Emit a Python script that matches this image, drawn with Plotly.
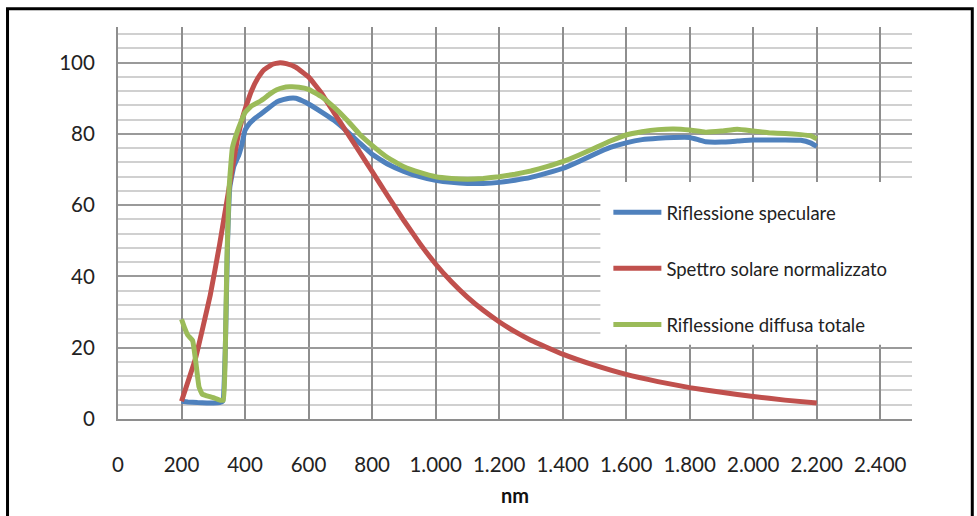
import plotly.graph_objects as go

# ---------------- data ----------------
blue_x = [200, 220, 250, 280, 300, 320, 330, 338, 345, 352, 365, 380, 390, 400, 415, 430, 450, 470, 500, 520, 540, 560, 580, 600, 640, 680, 720, 760, 800, 850, 900, 950, 1000, 1050, 1100, 1150, 1200, 1250, 1300, 1350, 1400, 1450, 1500, 1550, 1600, 1650, 1700, 1750, 1800, 1830, 1850, 1900, 1950, 2000, 2050, 2100, 2150, 2180, 2200]
blue_y = [5.0, 4.8, 4.6, 4.5, 4.5, 4.6, 5.0, 20, 50, 65, 71, 74, 77, 81, 83, 84.3, 85.6, 87, 89, 89.6, 90.0, 90.0, 89.3, 88.4, 86.2, 83.8, 80.8, 77.5, 74.3, 71.5, 69.5, 68, 67, 66.4, 66.1, 66.1, 66.4, 67, 67.8, 69, 70.3, 72.2, 74.3, 76.2, 77.5, 78.4, 78.8, 79, 79, 78.3, 77.8, 77.7, 78, 78.3, 78.3, 78.3, 78.2, 77.5, 76.5]

red_x = [200, 244, 291, 320, 350, 376, 392, 406, 420, 440, 460, 485, 510, 530, 560, 600, 640, 680, 720, 760, 800, 850, 900, 950, 1000, 1050, 1100, 1150, 1200, 1250, 1300, 1400, 1500, 1600, 1700, 1800, 1900, 2000, 2100, 2200]
red_y = [5, 17, 35, 49, 65, 78.5, 84.5, 88.5, 92, 95.6, 98, 99.5, 100, 99.7, 98.7, 96, 91.5, 86, 80.5, 75, 69.5, 62.5, 55.7, 49.3, 43.5, 38.5, 34.2, 30.5, 27.3, 24.5, 22.1, 18.2, 15.1, 12.5, 10.5, 8.8, 7.5, 6.3, 5.3, 4.5]

green_x = [200, 210, 220, 235, 245, 255, 265, 280, 300, 320, 332, 338, 343, 350, 360, 375, 390, 400, 420, 450, 480, 500, 520, 540, 570, 600, 640, 680, 720, 760, 800, 850, 900, 950, 1000, 1050, 1100, 1150, 1200, 1250, 1300, 1350, 1400, 1450, 1500, 1550, 1600, 1650, 1700, 1750, 1800, 1850, 1900, 1950, 2000, 2050, 2100, 2150, 2180, 2200]
green_y = [28, 25.5, 23.5, 22, 16, 9, 7, 6.5, 6, 5.3, 5.3, 20, 45, 65, 76, 80.5, 84, 86, 87.8, 89.3, 91.3, 92.4, 93, 93.2, 93.1, 92.5, 90.5, 87.5, 84, 80, 76.8, 73.3, 70.8, 69.2, 68, 67.5, 67.3, 67.5, 68, 68.7, 69.6, 70.8, 72.2, 74, 76, 78, 79.7, 80.6, 81.2, 81.4, 81.1, 80.5, 80.8, 81.3, 80.8, 80.3, 80.1, 79.8, 79.5, 78.6]

series_names = ["Riflessione speculare", "Spettro solare normalizzato", "Riflessione diffusa totale"]
series_colors = ["#4F81BD", "#C0504D", "#9BBB59"]

x_tick_vals = [0, 200, 400, 600, 800, 1000, 1200, 1400, 1600, 1800, 2000, 2200, 2400]
x_tick_text = ["0", "200", "400", "600", "800", "1.000", "1.200", "1.400", "1.600", "1.800", "2.000", "2.200", "2.400"]
y_tick_vals = [0, 20, 40, 60, 80, 100]
x_title = "nm"

# ---------------- figure ----------------
W, H = 977, 516
L, R, T, B = 117.5, 911.7, 26.7, 429.3
X_MAX, Y_MAX = 2500, 110

def px_to_paper_x(px):
    return (px - L) / (R - L)

def px_to_paper_y(py):
    return (B - py) / (B - T)

fig = go.Figure()
for xs, ys, name, col in zip([blue_x, red_x, green_x], [blue_y, red_y, green_y], series_names, series_colors):
    fig.add_trace(go.Scatter(x=xs, y=ys, mode="lines", name=name,
                             line=dict(color=col, width=5, shape="spline", smoothing=0.3),
                             legendgroup=name))

font_family = "Lato, 'Open Sans', sans-serif"

fig.update_layout(
    width=W, height=H,
    margin=dict(l=L, r=W - R, t=T, b=H - B, pad=0),
    plot_bgcolor="white", paper_bgcolor="white",
    font=dict(family=font_family, color="#222222"),
    showlegend=True,
    legend=dict(x=px_to_paper_x(608), y=px_to_paper_y(198), xanchor="left", yanchor="top",
                bgcolor="rgba(0,0,0,0)", font=dict(size=18.5, color="#222222"),
                tracegroupgap=29, traceorder="grouped", itemwidth=48),
    xaxis=dict(range=[0, X_MAX], tickvals=x_tick_vals, ticktext=x_tick_text,
               showgrid=True, gridcolor="#8e8e8e", gridwidth=1.6,
               showline=True, linecolor="#8e8e8e", linewidth=2,
               zeroline=False, ticks="", ticklabelstandoff=26,
               tickfont=dict(size=20.5, color="#222222"),
               title=dict(text="<b>" + x_title + "</b>", font=dict(size=20, color="#111111"), standoff=14)),
    yaxis=dict(range=[0, Y_MAX], tickvals=y_tick_vals,
               showgrid=True, gridcolor="#9a9a9a", gridwidth=1.6,
               minor=dict(dtick=4, tick0=0, showgrid=True, gridcolor="#d0d0d0", gridwidth=2),
               showline=True, linecolor="#8e8e8e", linewidth=2,
               zeroline=False, ticks="", ticklabelstandoff=17,
               tickfont=dict(size=20.5, color="#222222")),
)

# white box behind the legend (drawn between grid and traces)
def px_to_x(px):
    return (px - L) / (R - L) * X_MAX

def px_to_y(py):
    return (B - py) / (B - T) * Y_MAX

fig.add_shape(type="rect", xref="x", yref="y",
              x0=px_to_x(600), x1=X_MAX, y0=px_to_y(353), y1=px_to_y(186),
              fillcolor="white", line=dict(width=0), layer="between")

# outer black frame
fig.add_shape(type="rect", xref="paper", yref="paper",
              x0=px_to_paper_x(7), x1=px_to_paper_x(972), y0=px_to_paper_y(540), y1=px_to_paper_y(8),
              fillcolor="rgba(0,0,0,0)", line=dict(color="black", width=3), layer="above")

fig.write_html("out.html")
